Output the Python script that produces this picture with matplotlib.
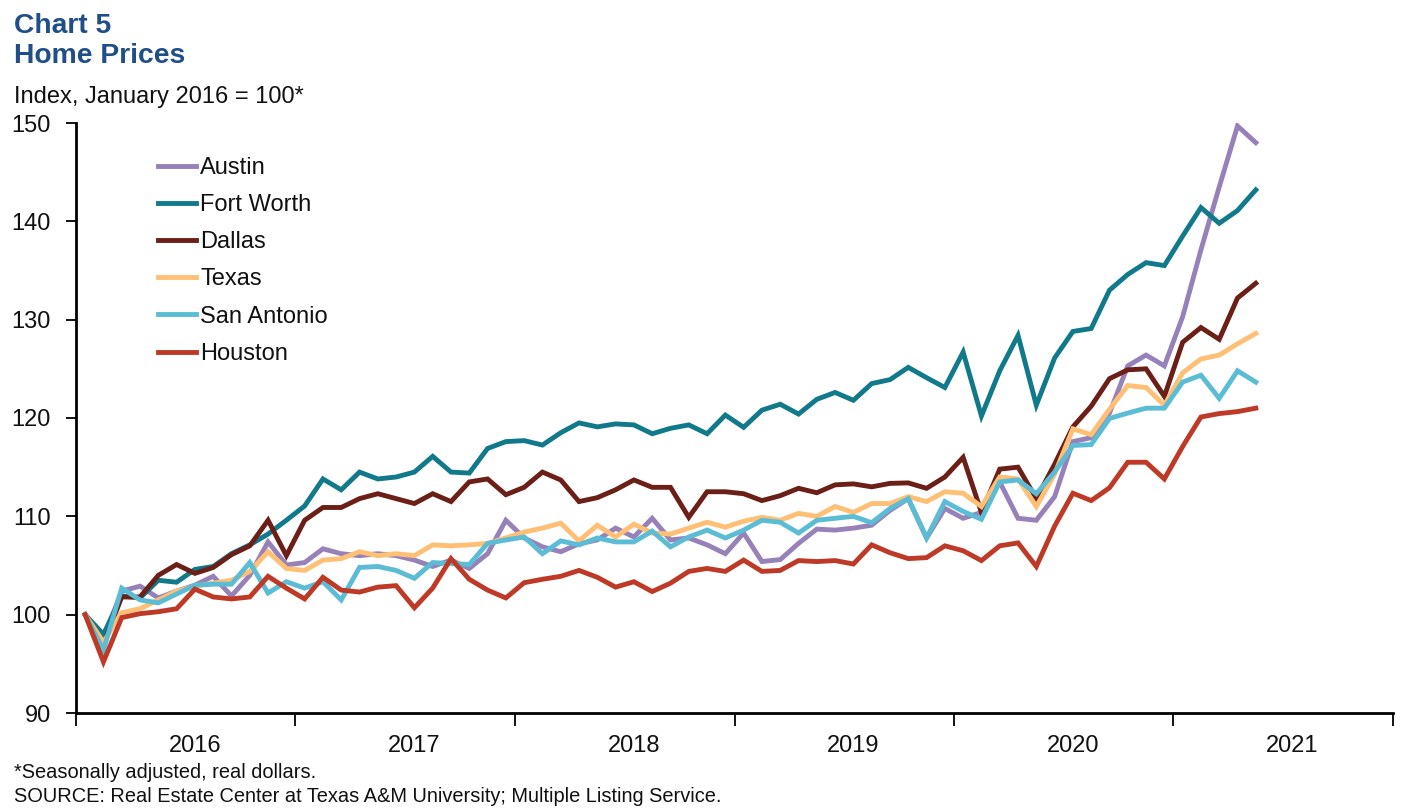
import matplotlib
matplotlib.use("Agg")
import matplotlib.pyplot as plt
import numpy as np

plt.rcParams['font.family'] = ['Liberation Sans', 'DejaVu Sans']

years = ['2016', '2017', '2018', '2019', '2020', '2021']

austin = [100, 97.6, 102.4, 102.9, 101.7, 102.4, 103.0, 103.9, 101.9, 104.0, 107.4, 105.05,
          105.3, 106.7, 106.2, 106.0, 106.2, 106.0, 105.55, 104.9, 105.55, 104.7, 106.2, 109.6,
          107.8, 106.9, 106.4, 107.2, 107.6, 108.8, 107.9, 109.8, 107.6, 107.8, 107.1, 106.2,
          108.3, 105.4, 105.6, 107.25, 108.7, 108.6, 108.8, 109.1, 110.6, 111.8, 107.8, 110.8,
          109.8, 110.4, 113.5, 109.8, 109.6, 112.0, 117.6, 118.0, 120.5, 125.3, 126.4, 125.3,
          130.3, 137.1, 143.5, 149.7, 148.0]

fort_worth = [100, 98.0, 101.9, 101.7, 103.5, 103.3, 104.6, 104.9, 106.2, 107.1, 108.2, 109.6,
              111.05, 113.8, 112.7, 114.5, 113.8, 114.0, 114.5, 116.1, 114.5, 114.4, 116.9, 117.6,
              117.7, 117.25, 118.5, 119.5, 119.1, 119.4, 119.3, 118.4, 118.95, 119.3, 118.4, 120.3,
              119.05, 120.8, 121.4, 120.4, 121.9, 122.6, 121.8, 123.5, 123.9, 125.15, 124.1, 123.1,
              126.7, 120.2, 124.8, 128.4, 121.3, 126.1, 128.8, 129.1, 133.0, 134.6, 135.8, 135.5,
              138.5, 141.4, 139.8, 141.1, 143.2]

dallas = [100, 97.0, 101.8, 101.8, 104.0, 105.1, 104.2, 104.8, 106.1, 107.0, 109.6, 106.0,
          109.6, 110.9, 110.9, 111.8, 112.3, 111.8, 111.3, 112.3, 111.5, 113.5, 113.8, 112.2,
          112.95, 114.5, 113.7, 111.5, 111.9, 112.7, 113.7, 112.95, 112.95, 109.9, 112.5, 112.5,
          112.3, 111.6, 112.1, 112.85, 112.4, 113.2, 113.3, 113.0, 113.35, 113.4, 112.85, 114.0,
          116.0, 110.4, 114.8, 115.0, 111.8, 115.3, 119.1, 121.2, 124.0, 124.9, 125.0, 122.2,
          127.7, 129.2, 128.0, 132.2, 133.7]

texas = [100, 97.2, 100.2, 100.6, 101.5, 102.4, 102.9, 103.2, 103.5, 104.4, 106.4, 104.7,
         104.5, 105.55, 105.7, 106.4, 106.0, 106.2, 106.0, 107.1, 107.0, 107.1, 107.25, 107.8,
         108.4, 108.8, 109.3, 107.5, 109.1, 107.9, 109.2, 108.3, 108.2, 108.8, 109.4, 108.9,
         109.5, 109.9, 109.6, 110.3, 110.0, 111.0, 110.4, 111.3, 111.3, 112.0, 111.5, 112.5,
         112.35, 111.0, 114.0, 113.8, 111.0, 114.3, 118.9, 118.3, 120.9, 123.3, 123.1, 121.3,
         124.6, 126.0, 126.4, 127.55, 128.6]

san_antonio = [100, 96.4, 102.7, 101.5, 101.2, 102.1, 103.0, 103.1, 103.1, 105.3, 102.2, 103.35,
               102.7, 103.35, 101.5, 104.8, 104.9, 104.5, 103.7, 105.3, 105.2, 105.1, 107.25, 107.6,
               107.9, 106.2, 107.5, 107.1, 107.8, 107.4, 107.4, 108.5, 106.9, 107.9, 108.6, 107.8,
               108.6, 109.6, 109.4, 108.3, 109.6, 109.8, 110.0, 109.35, 110.8, 111.8, 107.8, 111.5,
               110.5, 109.7, 113.5, 113.7, 112.3, 114.5, 117.2, 117.3, 119.95, 120.5, 121.0, 121.0,
               123.65, 124.35, 122.0, 124.8, 123.65]

houston = [100, 95.2, 99.7, 100.1, 100.3, 100.6, 102.6, 101.8, 101.6, 101.8, 103.9, 102.7,
           101.6, 103.8, 102.5, 102.3, 102.8, 102.95, 100.7, 102.7, 105.7, 103.6, 102.5, 101.7,
           103.25, 103.6, 103.9, 104.5, 103.8, 102.8, 103.35, 102.35, 103.2, 104.4, 104.7, 104.4,
           105.55, 104.4, 104.5, 105.5, 105.4, 105.5, 105.15, 107.1, 106.3, 105.7, 105.8, 107.0,
           106.5, 105.5, 107.0, 107.3, 104.9, 109.0, 112.35, 111.6, 112.9, 115.5, 115.5, 113.8,
           117.1, 120.1, 120.45, 120.65, 121.0]

series = [
    ('Austin', austin, '#9682B9'),
    ('Fort Worth', fort_worth, '#107A8B'),
    ('Dallas', dallas, '#6B1F17'),
    ('Texas', texas, '#FFBF75'),
    ('San Antonio', san_antonio, '#5BBDD5'),
    ('Houston', houston, '#BE3A27'),
]

fig = plt.figure(figsize=(14.22, 8.10), dpi=100)
ax = fig.add_axes([76 / 1422, 1 - 713 / 810, 1317 / 1422, 590 / 810])

months = np.arange(len(austin))
for name, vals, col in series:
    ax.plot(months, vals, color=col, lw=3.5, label=name, solid_joinstyle='miter')

ax.set_xlim(-0.5, 71.5)
ax.set_ylim(90, 150)
ax.set_yticks(np.arange(90, 151, 10))
ax.set_xticks(np.arange(-0.5, 72, 12))
ax.set_xticklabels([])
ax.set_xticks(np.arange(6, 72, 12), minor=True)
ax.set_xticklabels(years, minor=True)
ax.tick_params(axis='x', which='major', direction='out', length=9, width=1.3, color='black')
ax.tick_params(axis='x', which='minor', length=0, pad=16, labelsize=17, labelcolor='#111111')
ax.tick_params(axis='y', direction='out', length=7, width=1.3, labelsize=17, pad=11,
               labelcolor='#111111')

for s in ['top', 'right']:
    ax.spines[s].set_visible(False)
for s in ['left', 'bottom']:
    ax.spines[s].set_linewidth(2.0)
    ax.spines[s].set_color('black')

leg = ax.legend(loc='upper left', bbox_to_anchor=(146 / 1422, 1 - 145 / 810),
                bbox_transform=fig.transFigure, frameon=False, fontsize=17,
                handlelength=1.6, handletextpad=0.2, labelspacing=0.645, borderpad=0)
for t in leg.get_texts():
    t.set_color('#111111')

title_col = '#1F4E88'
fig.text(14 / 1422, 1 - 33 / 810, 'Chart 5', fontsize=20.3, fontweight='bold',
         color=title_col, va='baseline', ha='left')
fig.text(14 / 1422, 1 - 63 / 810, 'Home Prices', fontsize=20.3, fontweight='bold',
         color=title_col, va='baseline', ha='left')
fig.text(14 / 1422, 1 - 103 / 810, 'Index, January 2016 = 100*', fontsize=17,
         color='#111111', va='baseline', ha='left')
fig.text(14 / 1422, 1 - 778 / 810, '*Seasonally adjusted, real dollars.', fontsize=14.4,
         color='#111111', va='baseline', ha='left')
fig.text(14 / 1422, 1 - 802 / 810,
         'SOURCE: Real Estate Center at Texas A&M University; Multiple Listing Service.',
         fontsize=14.4, color='#111111', va='baseline', ha='left')

fig.savefig('out.png', dpi=100)
